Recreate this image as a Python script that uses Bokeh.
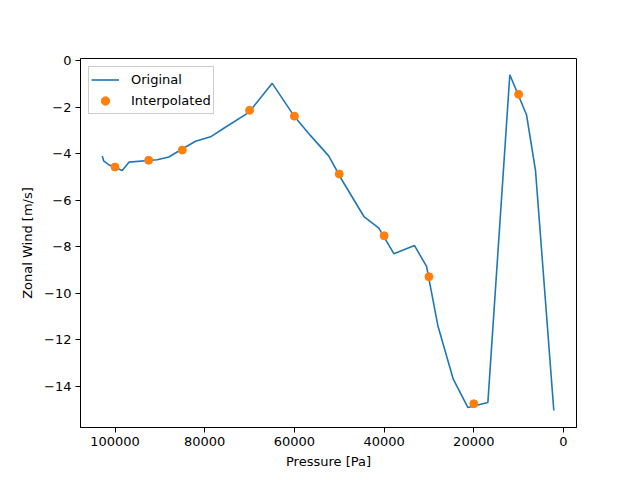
from bokeh.plotting import figure
from bokeh.models import Range1d, FixedTicker, BasicTickFormatter, Legend, LegendItem
from bokeh.embed import file_html
from bokeh.resources import INLINE

# Original profile
pressure_orig = [102850, 102500, 101400, 98400, 96900, 90600, 88000, 85400, 82050,
                 78700, 75740, 70160, 64950, 60130, 56400, 52320, 49340, 44500,
                 41170, 37830, 33210, 30540, 28010, 24580, 21300, 16860, 11970,
                 8250, 6240, 2160]
wind_orig = [-4.10, -4.32, -4.47, -4.72, -4.36, -4.26, -4.14, -3.84, -3.46,
             -3.27, -2.90, -2.22, -0.97, -2.36, -3.22, -4.10, -5.15, -6.70,
             -7.20, -8.30, -7.95, -8.85, -11.40, -13.70, -14.92, -14.70, -0.60,
             -2.32, -4.72, -15.05]

# Interpolated values
pressure_interp = [100000, 92500, 85000, 70000, 60000, 50000, 40000, 30000, 20000, 10000]
wind_interp = [-4.57, -4.28, -3.84, -2.13, -2.38, -4.87, -7.53, -9.29, -14.76, -1.44]

x_ticks = [100000, 80000, 60000, 40000, 20000, 0]
y_ticks = [0, -2, -4, -6, -8, -10, -12, -14]

FONT = "DejaVu Sans"

p = figure(width=640, height=480, output_backend="svg", toolbar_location=None,
           x_range=Range1d(107700, -2900), y_range=Range1d(-15.78, 0.1),
           min_border_left=80, min_border_right=64, min_border_top=58, min_border_bottom=53)
p.grid.visible = False
p.outline_line_color = "black"
p.outline_line_alpha = 1
p.outline_line_width = 1
p.background_fill_color = "white"
p.border_fill_color = "white"

p.xaxis.ticker = FixedTicker(ticks=x_ticks)
p.xaxis.formatter = BasicTickFormatter(use_scientific=False)
p.yaxis.ticker = FixedTicker(ticks=y_ticks)
p.yaxis.major_label_overrides = {v: (str(v).replace("-", "\u2212")) for v in y_ticks}

for ax in (p.xaxis, p.yaxis):
    ax.axis_line_color = "black"
    ax.major_tick_line_color = "black"
    ax.major_tick_out = 5
    ax.major_tick_in = 0
    ax.minor_tick_line_color = None
    ax.major_label_text_font = FONT
    ax.major_label_text_font_size = "13px"
    ax.major_label_text_color = "black"
    ax.axis_label_text_font = FONT
    ax.axis_label_text_font_size = "13px"
    ax.axis_label_text_font_style = "normal"
    ax.axis_label_text_color = "black"
    ax.major_label_standoff = 4

p.xaxis.axis_label = "Pressure [Pa]"
p.yaxis.axis_label = "Zonal Wind [m/s]"
p.xaxis.axis_label_standoff = 5
p.yaxis.axis_label_standoff = 6

l1 = p.line(pressure_orig, wind_orig, line_color="#1f77b4", line_width=1.6)
s1 = p.scatter(pressure_interp, wind_interp, size=8, fill_color="#ff7f0e",
               line_color="#ff7f0e")

legend = Legend(items=[LegendItem(label="Original", renderers=[l1]),
                       LegendItem(label="Interpolated", renderers=[s1])],
                location="top_left")
legend.label_text_font = FONT
legend.label_text_font_size = "13px"
legend.label_text_color = "black"
legend.border_line_color = "#cccccc"
legend.border_line_alpha = 1
legend.background_fill_alpha = 0.8
legend.margin = 8
legend.padding = 2
legend.spacing = 0
legend.label_height = 21
legend.glyph_height = 21
legend.glyph_width = 28
legend.label_standoff = 12
p.add_layout(legend)

open("out.html", "w").write(file_html(p, INLINE))
